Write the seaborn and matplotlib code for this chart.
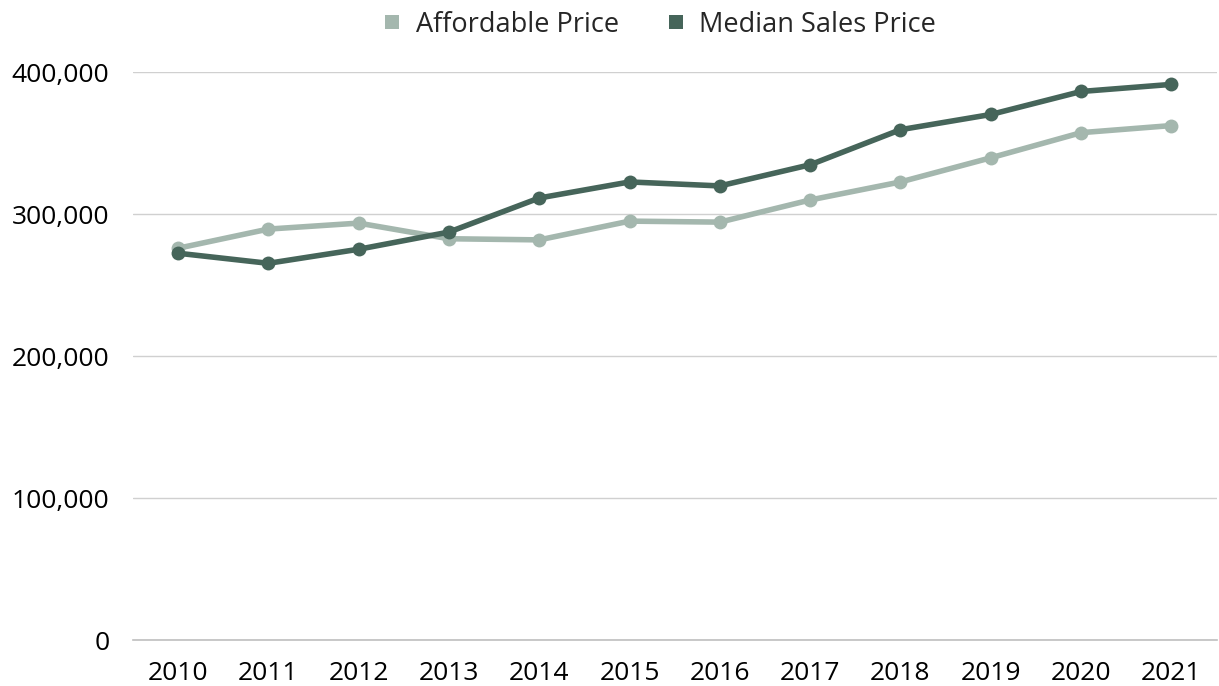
import matplotlib
matplotlib.use("Agg")
import matplotlib.pyplot as plt
import matplotlib.ticker as mticker
from matplotlib.lines import Line2D
import seaborn as sns
import pandas as pd

years = ["2010", "2011", "2012", "2013", "2014", "2015", "2016", "2017", "2018", "2019", "2020", "2021"]
affordable_price = [275900, 289400, 293600, 282600, 281800, 295000, 294300, 309900, 322600, 339600, 357300, 362300]
median_sales_price = [272400, 265300, 275200, 287300, 311300, 322600, 319800, 334700, 359400, 370100, 386300, 391300]
series_names = ["Affordable Price", "Median Sales Price"]
y_ticks = [0, 100000, 200000, 300000, 400000]

colors = {"Affordable Price": "#A4B7AE", "Median Sales Price": "#46655A"}

df = pd.concat([
    pd.DataFrame({"Year": years, "Value": affordable_price, "Series": series_names[0]}),
    pd.DataFrame({"Year": years, "Value": median_sales_price, "Series": series_names[1]}),
])

sns.set_theme(style="white")
plt.rcParams['font.family'] = ['Open Sans', 'DejaVu Sans']

fig = plt.figure(figsize=(12.19, 6.86), dpi=100)
ax = fig.add_axes([0.109, 0.067, 0.889, 0.828])

sns.lineplot(data=df, x="Year", y="Value", hue="Series", palette=colors,
             marker="o", markersize=10, markeredgewidth=0, linewidth=4.0,
             sort=False, ax=ax, legend=False)

ax.set_xlim(-0.5, len(years) - 0.5)
ax.set_ylim(0, 400000)
ax.set_yticks(y_ticks)
ax.yaxis.set_major_formatter(mticker.FuncFormatter(lambda v, p: f"{int(v):,}"))
ax.grid(axis="y", color="#D0D0D0", linewidth=1.0)
ax.set_axisbelow(True)
for s in ["top", "right", "left"]:
    ax.spines[s].set_visible(False)
ax.spines["bottom"].set_color("#BFBFBF")
ax.spines["bottom"].set_linewidth(1.2)
ax.tick_params(axis="both", length=0, labelsize=19, colors="#000000")
ax.tick_params(axis="x", pad=15)
ax.tick_params(axis="y", pad=17)
ax.set_xlabel("")
ax.set_ylabel("")

handles = [Line2D([0], [0], marker="s", linestyle="none", markersize=10,
                  markerfacecolor=colors[n], markeredgewidth=0) for n in series_names]
fig.legend(handles, series_names, loc="upper center", bbox_to_anchor=(0.538, 1.02),
           ncol=2, frameon=False, fontsize=19.5, handletextpad=0.25, columnspacing=1.5,
           handlelength=1.2)

fig.savefig("out.png", dpi=100)
